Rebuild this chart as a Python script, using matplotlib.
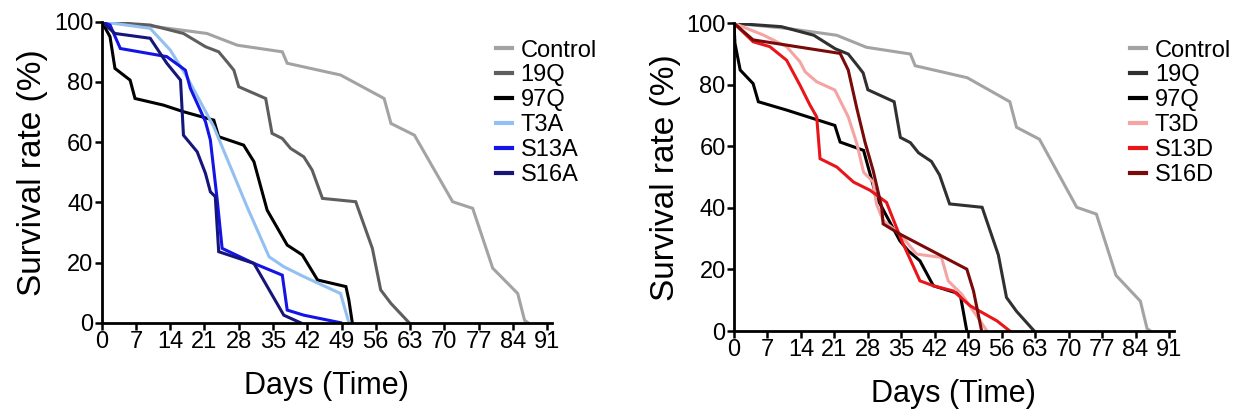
import matplotlib
matplotlib.use("Agg")
import matplotlib.pyplot as plt

plt.rcParams['font.family'] = ['Liberation Sans', 'DejaVu Sans']

# survival curves (day, % alive)
control_days = [0, 11.3, 21.5, 27.7, 36.9, 37.9, 48.8, 57.7, 59.1, 63.9, 71.7, 75.8, 79.9, 85.0, 86.4, 87.1]
control_pct = [100, 98.3, 96.1, 92.2, 90.0, 86.2, 82.3, 74.5, 66.2, 62.3, 40.2, 38.0, 18.1, 9.7, 0.8, 0]

q19_days = [0, 9.9, 16.7, 21.2, 23.9, 25.6, 27.0, 28.0, 33.5, 34.8, 36.9, 38.6, 41.3, 43.0, 45.1, 51.9, 55.3, 57.0, 59.1, 62.8]
q19_pct = [100, 98.9, 96.1, 91.7, 90.0, 86.7, 83.9, 78.4, 74.5, 62.9, 61.2, 57.9, 55.1, 50.7, 41.3, 40.2, 24.7, 10.9, 6.4, 0]

# 97Q, left panel
q97a_days = [0, 1.7, 2.7, 5.8, 6.8, 12.6, 16.7, 22.9, 23.9, 27.0, 29.0, 31.1, 33.8, 37.9, 41.0, 44.1, 49.9, 50.5, 51.2]
q97a_pct = [100, 95.0, 84.5, 80.6, 74.5, 72.3, 70.1, 67.3, 61.8, 60.1, 59.0, 53.5, 37.4, 25.8, 22.5, 14.2, 12.0, 7.5, 0]

t3a_days = [0, 9.9, 14.0, 17.4, 22.9, 29.7, 34.2, 37.2, 41.3, 48.8, 50.5]
t3a_pct = [100, 97.8, 90.6, 81.7, 65.1, 38.5, 21.9, 18.6, 15.3, 9.7, 0]

s13a_days = [0, 1.7, 3.8, 13.3, 17.1, 18.1, 21.2, 22.2, 23.6, 24.6, 31.1, 36.9, 37.9, 41.3, 48.8]
s13a_pct = [100, 98.9, 91.1, 88.4, 83.9, 77.9, 66.8, 60.7, 40.8, 24.7, 19.7, 15.8, 4.2, 2.5, 0]

s16a_days = [0, 2.7, 9.9, 13.3, 16.1, 16.7, 19.5, 21.2, 22.2, 23.2, 23.9, 31.1, 37.2, 40.6]
s16a_pct = [100, 96.1, 94.5, 86.2, 80.6, 62.3, 56.8, 49.6, 43.5, 41.9, 23.6, 19.7, 2.5, 0]

# 97Q, right panel
q97d_days = [0, 0.2, 1.3, 4.0, 5.1, 11.0, 21.1, 22.2, 27.1, 29.8, 34.7, 36.5, 38.9, 41.7, 47.3, 48.7]
q97d_pct = [100, 93.5, 84.8, 80.4, 74.5, 71.8, 66.8, 61.4, 58.7, 43.5, 29.3, 26.0, 22.8, 14.7, 12.0, 0]

t3d_days = [0, 6.1, 11.0, 13.8, 14.9, 17.3, 21.1, 23.9, 25.7, 27.1, 29.1, 29.8, 31.2, 34.7, 38.2, 43.4, 44.8, 47.6, 51.5, 52.9]
t3d_pct = [100, 96.2, 92.4, 87.5, 84.2, 81.0, 78.3, 69.6, 60.9, 51.6, 48.4, 41.3, 35.9, 31.5, 25.0, 23.9, 16.3, 12.0, 3.3, 0]

s13d_days = [0, 4.0, 7.5, 11.0, 13.8, 15.9, 17.3, 18.0, 21.5, 25.0, 28.5, 31.9, 35.1, 38.9, 41.7, 45.9, 49.4, 55.0, 57.7]
s13d_pct = [100, 94.0, 92.4, 88.0, 79.9, 73.4, 69.6, 56.0, 53.3, 48.4, 45.7, 41.8, 29.3, 16.3, 14.7, 13.0, 8.2, 3.3, 0]

s16d_days = [0, 4.0, 22.2, 23.9, 25.7, 27.4, 29.1, 30.9, 31.2, 34.7, 48.7, 50.1, 51.8]
s16d_pct = [100, 94.6, 90.2, 84.8, 72.3, 61.4, 52.2, 40.2, 34.8, 31.5, 20.1, 13.0, 0]

x_ticks = list(range(0, 92, 7))
y_ticks = [0, 20, 40, 60, 80, 100]

left_series = [
    ("Control", control_days, control_pct, "#a3a3a3"),
    ("19Q", q19_days, q19_pct, "#5e5e5e"),
    ("97Q", q97a_days, q97a_pct, "#000000"),
    ("T3A", t3a_days, t3a_pct, "#93c0f2"),
    ("S13A", s13a_days, s13a_pct, "#1414e6"),
    ("S16A", s16a_days, s16a_pct, "#15157a"),
]
right_series = [
    ("Control", control_days, control_pct, "#a3a3a3"),
    ("19Q", q19_days, q19_pct, "#303030"),
    ("97Q", q97d_days, q97d_pct, "#000000"),
    ("T3D", t3d_days, t3d_pct, "#f5a3a3"),
    ("S13D", s13d_days, s13d_pct, "#e8161b"),
    ("S16D", s16d_days, s16d_pct, "#7a0a0a"),
]

fig = plt.figure(figsize=(12.39, 4.17), dpi=100)
ax1 = fig.add_axes([0.0821, 0.2261, 0.3634, 0.7218])
ax2 = fig.add_axes([0.5924, 0.2062, 0.3550, 0.7380])


def style(ax, series, leg_x):
    for name, d, p, c in series:
        ax.plot(d, p, color=c, lw=2.2, label=name, solid_joinstyle='miter')
    ax.set_xlim(0, 92)
    ax.set_ylim(0, 100)
    ax.set_xticks(x_ticks)
    ax.set_yticks(y_ticks)
    ax.tick_params(labelsize=17, width=1.8, length=5, pad=1)
    for s in ["top", "right"]:
        ax.spines[s].set_visible(False)
    for s in ["left", "bottom"]:
        ax.spines[s].set_linewidth(2)
    ax.set_xlabel("Days (Time)", fontsize=22, labelpad=13)
    ax.set_ylabel("Survival rate (%)", fontsize=24, labelpad=4)
    leg = ax.legend(loc="upper left", bbox_to_anchor=(leg_x, 0.905), bbox_transform=fig.transFigure,
                    frameon=False, fontsize=17, handlelength=0.7, handletextpad=0.35,
                    labelspacing=0.12, borderpad=0, borderaxespad=0)
    for h in leg.get_lines():
        h.set_linewidth(3)


style(ax1, left_series, 0.400)
style(ax2, right_series, 0.912)

fig.savefig("out.png", dpi=100)
